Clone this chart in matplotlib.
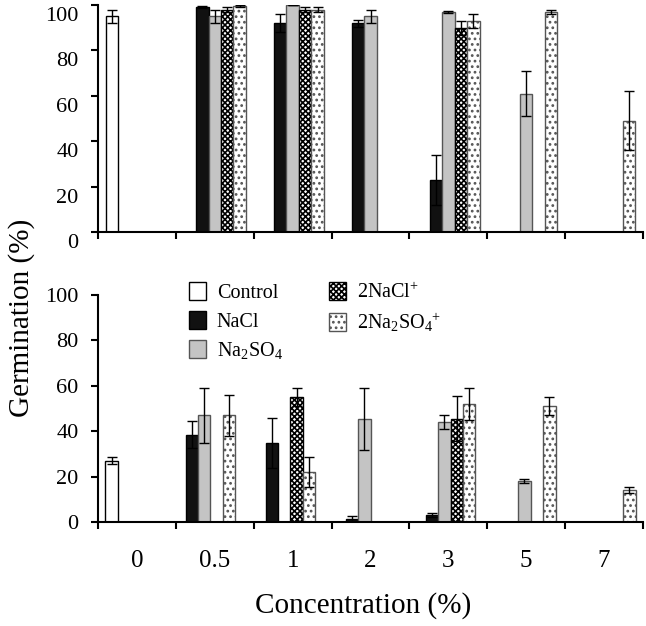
import matplotlib
matplotlib.use("Agg")
import matplotlib.pyplot as plt
import matplotlib.transforms as mtransforms
import numpy as np

plt.rcParams['font.family'] = ['Liberation Serif', 'DejaVu Serif']
plt.rcParams['mathtext.fontset'] = 'custom'
plt.rcParams['mathtext.rm'] = 'Liberation Serif'
plt.rcParams['mathtext.it'] = 'Liberation Serif:italic'
plt.rcParams['hatch.linewidth'] = 1.2

nan = np.nan
categories = ['0', '0.5', '1', '2', '3', '5', '7']
labels = ['Control', 'NaCl', 'Na$_2$SO$_4$', '2NaCl$^{+}$', '2Na$_2$SO$_4$$^{+}$']

# top panel
control_top = [95, nan, nan, nan, nan, nan, nan]
control_top_err = [3, 0, 0, 0, 0, 0, 0]
nacl_top = [nan, 99, 92, 92, 23, nan, nan]
nacl_top_err = [0, 0.5, 4, 1.5, 11, 0, 0]
na2so4_top = [nan, 95, 100, 95, 97, 61, nan]
na2so4_top_err = [0, 3, 0, 3, 0.5, 10, 0]
nacl2_top = [nan, 98, 98, nan, 90, nan, nan]
nacl2_top_err = [0, 1, 1, 0, 3, 0, 0]
na2so42_top = [nan, 99.5, 98, nan, 93, 97, 49]
na2so42_top_err = [0, 0.5, 1, 0, 3, 1, 13]

# bottom panel
control_bot = [27, nan, nan, nan, nan, nan, nan]
control_bot_err = [1.5, 0, 0, 0, 0, 0, 0]
nacl_bot = [nan, 38.5, 35, 1.5, 3, nan, nan]
nacl_bot_err = [0, 6, 11, 1, 1, 0, 0]
na2so4_bot = [nan, 47, nan, 45.5, 44, 18, nan]
na2so4_bot_err = [0, 12, 0, 13.7, 3, 1, 0]
nacl2_bot = [nan, nan, 55, nan, 45.5, nan, nan]
nacl2_bot_err = [0, 0, 4, 0, 10, 0, 0]
na2so42_bot = [nan, 47, 22, nan, 52, 51, 14]
na2so42_bot_err = [0, 9, 6.5, 0, 7, 4, 1.3]

styles = [
    dict(facecolor='white', edgecolor='black'),
    dict(facecolor='#111111', edgecolor='black'),
    dict(facecolor='#c4c4c4', edgecolor='#555555'),
    dict(facecolor='white', edgecolor='black', hatch='xxxxxx'),
    dict(facecolor='white', edgecolor='#555555', hatch='...'),
]

x = np.arange(len(categories))
w = 0.16

fig = plt.figure(figsize=(6.46, 6.26), dpi=100)
ax1 = fig.add_axes([0.1517, 0.6294, 0.8437, 0.3626])
ax2 = fig.add_axes([0.1517, 0.1661, 0.8437, 0.3626])


def draw(ax, series, errs, slots, pos):
    for vals, err, slot, st in zip(series, errs, slots, styles):
        xs = pos + (-0.4 + w / 2 + w * slot) if len(set(slots)) == 5 else pos + (-0.24 + w * slot)
        ax.bar(xs, vals, w, linewidth=1.0, zorder=2, **st)
        ok = ~np.isnan(vals)
        ax.errorbar(xs[ok], np.array(vals)[ok], yerr=np.array(err)[ok], fmt='none',
                    ecolor='black', elinewidth=1.0, capsize=3.5, capthick=1.0, zorder=3)


draw(ax1, [control_top, nacl_top, na2so4_top, nacl2_top, na2so42_top],
     [control_top_err, nacl_top_err, na2so4_top_err, nacl2_top_err, na2so42_top_err],
     [0, 1, 2, 3, 4], x.astype(float))

# bottom chart: control shares the first slot with NaCl, bar spacing slightly wider
pos_bot = 3 + (x - 3) * 1.028
draw(ax2, [control_bot, nacl_bot, na2so4_bot, nacl2_bot, na2so42_bot],
     [control_bot_err, nacl_bot_err, na2so4_bot_err, nacl2_bot_err, na2so42_bot_err],
     [0, 0, 1, 2, 3], pos_bot)

for ax in (ax1, ax2):
    ax.set_xlim(-0.5, 6.5)
    ax.set_ylim(0, 100)
    ax.set_yticks(range(0, 101, 20))
    ax.set_xticks(np.arange(-0.5, 7, 1))
    ax.set_xticklabels([])
    ax.spines['top'].set_visible(False)
    ax.spines['right'].set_visible(False)
    ax.spines['left'].set_linewidth(1.5)
    ax.spines['bottom'].set_linewidth(1.5)
    ax.tick_params(axis='both', direction='out', length=5, width=1.5, labelsize=16, pad=6)
    ax.tick_params(axis='y', pad=9)

# top panel's tick labels sit a little below their ticks in the original
shift = mtransforms.ScaledTranslation(0, -0.09, fig.dpi_scale_trans)
for lab in ax1.get_yticklabels():
    lab.set_transform(lab.get_transform() + shift)

ax2.set_xticks(x, minor=True)
ax2.set_xticklabels(categories, minor=True)
ax2.tick_params(axis='x', which='minor', length=0, labelsize=18, pad=20)

handles = [plt.Rectangle((0, 0), 1, 1, linewidth=1.0, **st) for st in styles]
ax2.legend(handles, labels, ncol=2, frameon=False, fontsize=14.5,
           handlelength=0.85, handleheight=1.0, handletextpad=0.55,
           columnspacing=2.3, labelspacing=0.4,
           loc='upper left', bbox_to_anchor=(0.133, 1.138))

fig.text(0.034, 0.492, 'Germination (%)', rotation=90, fontsize=21, ha='center', va='center')
fig.text(0.562, 0.032, 'Concentration (%)', fontsize=21, ha='center', va='center')

fig.savefig('out.png', dpi=100)
